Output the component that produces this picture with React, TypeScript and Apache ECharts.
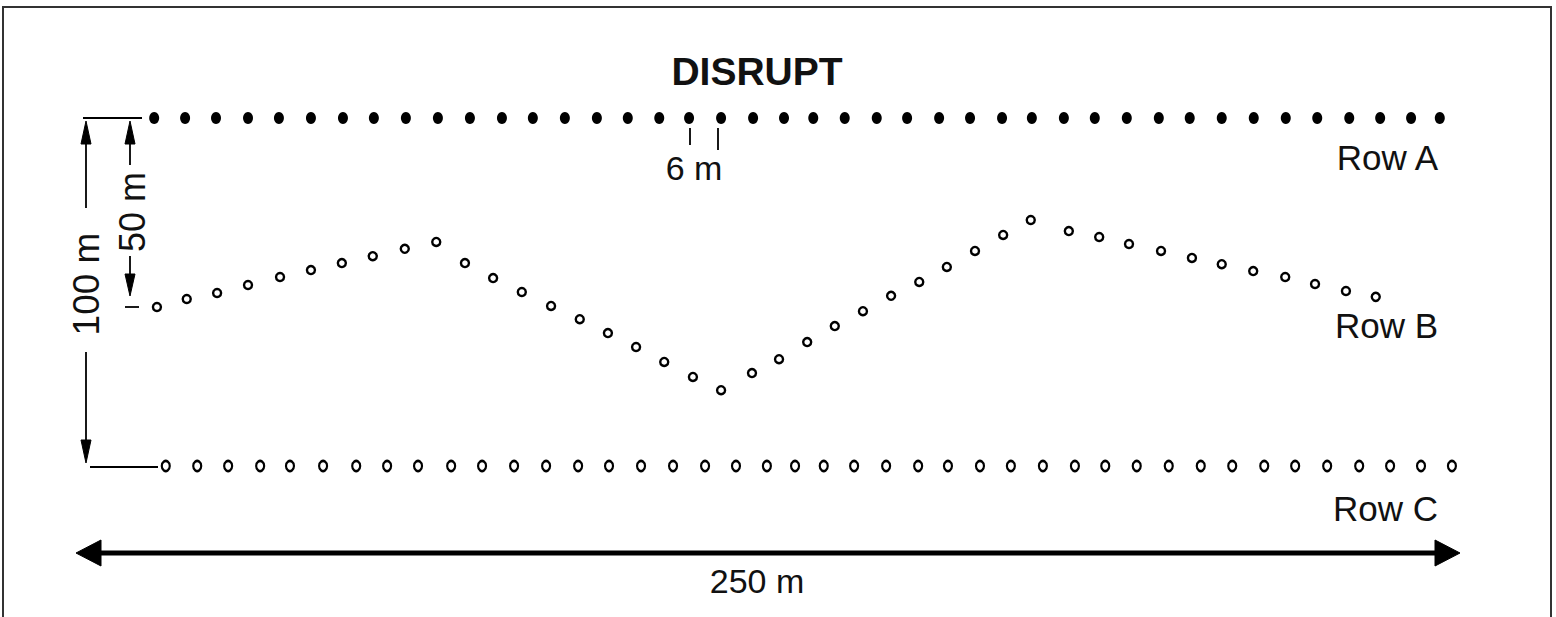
import React, { useEffect, useRef } from "react";
import * as echarts from "echarts";

// Positions in metres: x along the plot (0..250), y down from Row A (0..100)
const rowAX = [13.8, 19.4, 25.0, 30.8, 36.4, 42.2, 48.0, 53.6, 59.4, 65.2, 71.0, 76.8, 82.4, 88.2, 94.0, 99.6, 105.3, 110.7, 116.5, 122.3, 127.9, 133.2, 138.9, 144.7, 150.2, 156.0, 161.6, 167.4, 172.8, 178.6, 184.2, 190.0, 195.8, 201.4, 207.2, 213.0, 218.8, 224.5, 230.3, 235.9, 241.5, 246.7];
const rowAY = 0;

const rowBX = [14.3, 19.7, 25.2, 30.8, 36.6, 42.2, 47.8, 53.4, 59.2, 64.9, 70.1, 75.2, 80.4, 85.7, 90.9, 96.0, 101.1, 106.2, 111.4, 116.5, 122.1, 127.0, 132.1, 137.1, 142.2, 147.3, 152.4, 157.4, 162.5, 167.6, 172.6, 179.5, 185.0, 190.4, 196.2, 201.8, 207.2, 212.9, 218.7, 224.1, 229.7, 235.1];
const rowBY = [54.3, 52.0, 50.3, 48.0, 45.7, 43.7, 41.7, 39.7, 37.6, 35.6, 41.7, 46.0, 50.0, 54.0, 57.8, 61.8, 65.8, 70.1, 74.4, 78.2, 73.3, 69.3, 64.4, 59.8, 55.5, 51.1, 47.1, 42.8, 38.2, 33.6, 29.3, 32.5, 34.2, 36.2, 38.2, 40.2, 42.0, 44.0, 45.7, 47.7, 49.7, 51.4];

const rowCX = [15.9, 21.6, 27.2, 33.0, 38.4, 44.4, 50.4, 56.0, 61.6, 67.6, 73.2, 79.0, 84.8, 90.6, 96.2, 102.0, 107.8, 113.6, 119.2, 124.8, 129.9, 135.1, 140.6, 146.4, 152.2, 157.6, 163.4, 169.0, 174.8, 180.6, 186.1, 191.8, 197.6, 203.4, 209.1, 214.9, 220.5, 226.3, 232.1, 237.7, 243.3, 248.9];
const rowCY = 100;

const title = "DISRUPT";
const rowLabels = ["Row A", "Row B", "Row C"];
const spacingLabel = "6 m";
const widthLabel = "250 m";
const depthLabel = "100 m";
const offsetLabel = "50 m";

const FONT = '"Liberation Sans", Arial, Helvetica, sans-serif';
const INK = "#000";

export default function App() {
  const ref = useRef<HTMLDivElement>(null);

  useEffect(() => {
    if (!ref.current) return;
    const chart = echarts.init(ref.current, undefined, { renderer: "svg" });

    const txt = (text: string, x: number, y: number, size: number, opts: any = {}) => ({
      type: "text",
      x,
      y,
      rotation: opts.rotation || 0,
      z: 10,
      style: {
        text,
        fill: "#111",
        font: `${opts.bold ? "bold " : ""}${size}px ${FONT}`,
        align: opts.align || "center",
        verticalAlign: "middle",
        textAlign: opts.align || "center",
        textVerticalAlign: "middle",
      },
    });
    const ln = (x1: number, y1: number, x2: number, y2: number, w = 1.8) => ({
      type: "line",
      z: 10,
      shape: { x1, y1, x2, y2 },
      style: { stroke: INK, lineWidth: w },
    });
    const tri = (pts: number[][]) => ({
      type: "polygon",
      z: 10,
      shape: { points: pts },
      style: { fill: INK, stroke: INK, lineWidth: 1 },
    });

    const graphic: any[] = [
      {
        type: "rect",
        z: 5,
        shape: { x: 3, y: 7, width: 1548, height: 660 },
        style: { fill: "none", stroke: "#333", lineWidth: 2 },
      },
      txt(title, 757, 71, 39, { bold: true }),
      txt(rowLabels[0], 1438, 157, 35, { align: "right" }),
      txt(rowLabels[1], 1438, 325, 35, { align: "right" }),
      txt(rowLabels[2], 1438, 508, 35, { align: "right" }),
      // 6 m spacing marker
      ln(690, 128, 690, 145),
      ln(718, 128, 718, 150),
      txt(spacingLabel, 694, 168, 34),
      // 100 m dimension
      ln(83, 118, 142, 118),
      tri([[86, 121], [81, 144], [91, 144]]),
      ln(86, 143, 86, 208),
      txt(depthLabel, 86, 284, 37, { rotation: Math.PI / 2 }),
      ln(86, 352, 86, 442),
      tri([[86, 463], [81, 440], [91, 440]]),
      ln(90, 467, 158, 467),
      // 50 m dimension
      tri([[130, 121], [125, 144], [135, 144]]),
      ln(130, 143, 130, 165),
      txt(offsetLabel, 132, 212, 36, { rotation: Math.PI / 2 }),
      ln(130, 256, 130, 276),
      tri([[130, 296], [125, 274], [135, 274]]),
      ln(125, 307, 139, 307),
      // 250 m dimension
      ln(96, 553, 1440, 553, 5),
      tri([[76, 553], [101, 540], [101, 566]]),
      tri([[1460, 553], [1435, 540], [1435, 566]]),
      txt(widthLabel, 757, 581, 34),
    ];

    chart.setOption({
      animation: false,
      backgroundColor: "#fff",
      grid: { left: 78, right: 98, top: 118, bottom: 151, containLabel: false },
      xAxis: { type: "value", min: 0, max: 250, show: false },
      yAxis: { type: "value", min: 0, max: 100, inverse: true, show: false },
      series: [
        {
          name: rowLabels[0],
          type: "scatter",
          symbol: "circle",
          symbolSize: [10, 12],
          itemStyle: { color: INK, opacity: 1 },
          data: rowAX.map((x) => [x, rowAY]),
        },
        {
          name: rowLabels[1],
          type: "scatter",
          symbol: "circle",
          symbolSize: 8,
          itemStyle: { color: "#fff", borderColor: INK, borderWidth: 2.4, opacity: 1 },
          data: rowBX.map((x, i) => [x, rowBY[i]]),
        },
        {
          name: rowLabels[2],
          type: "scatter",
          symbol: "circle",
          symbolSize: [8, 10],
          itemStyle: { color: "#fff", borderColor: INK, borderWidth: 2.4, opacity: 1 },
          data: rowCX.map((x) => [x, rowCY]),
        },
      ],
      graphic,
    });

    return () => chart.dispose();
  }, []);

  return (
    <div
      ref={ref}
      style={{ position: "fixed", left: 0, top: 0, width: 1556, height: 617, background: "#fff" }}
    />
  );
}
